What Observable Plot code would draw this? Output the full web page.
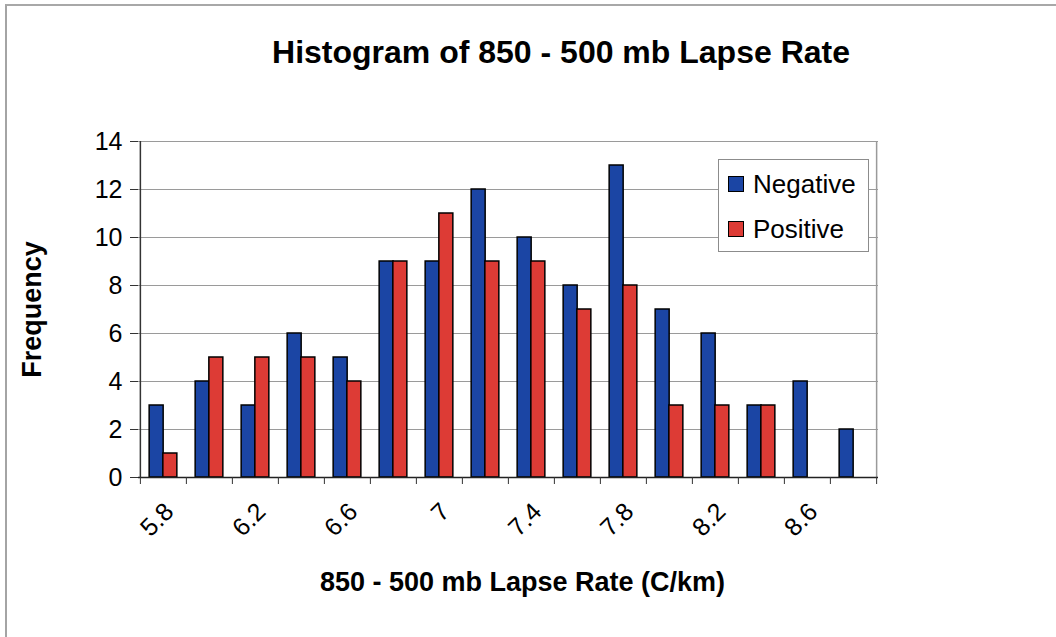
<!DOCTYPE html>
<html>
<head>
<meta charset="utf-8">
<script src="https://cdn.jsdelivr.net/npm/d3@7"></script>
<script src="https://cdn.jsdelivr.net/npm/@observablehq/plot@0.6"></script>
<style>
  body { margin: 0; background: #fff; font-family: "Liberation Sans", Arial, Helvetica, sans-serif; }
  #chart { position: relative; width: 1056px; height: 637px; overflow: hidden; background: #fff; }
  #border { position: absolute; left: 5px; top: 4px; right: -10px; bottom: -10px;
            border-left: 2px solid #a4a4a4; border-top: 2px solid #a8a8a8; pointer-events: none; }
  #title { height: 90px; box-sizing: border-box; padding-top: 36px; padding-left: 66px;
           text-align: center; font-size: 32px; line-height: 32px; font-weight: bold; color: #000; }
  #legend { position: absolute; left: 718px; top: 159px; width: 151px; height: 93px; box-sizing: border-box;
            border: 1px solid #8c8c8c; background: #fff; font-size: 26px; color: #000; }
  #legend .item { position: absolute; left: 9px; height: 28px; line-height: 28px; white-space: nowrap; }
  #legend .sw { display: inline-block; width: 14px; height: 14px; border: 1.5px solid #000;
                vertical-align: middle; margin-right: 9px; position: relative; top: -2px; }
  svg { display: block; }
</style>
</head>
<body>
<div id="chart">
  <div id="title">Histogram of 850 - 500 mb Lapse Rate</div>
  <div id="plot"></div>
  <div id="legend"></div>
  <div id="border"></div>
</div>
<script>
// Lapse-rate bins (C/km) and the number of cases in each bin
const bins = ["5.8", "6", "6.2", "6.4", "6.6", "6.8", "7", "7.2", "7.4", "7.6", "7.8", "8", "8.2", "8.4", "8.6", "8.8"];
const negative = [3, 4, 3, 6, 5, 9, 9, 12, 10, 8, 13, 7, 6, 3, 4, 2];
const positive = [1, 5, 5, 5, 4, 9, 11, 9, 9, 7, 8, 3, 3, 3, 0, 0];
const seriesNames = ["Negative", "Positive"];
const seriesColors = ["#1b45a4", "#dd3b35"];
const yTicks = [0, 2, 4, 6, 8, 10, 12, 14];
const labelledBins = bins.filter((d, i) => i % 2 === 0);

// Long table: one row per bar
const rows = [];
bins.forEach((b, i) => {
  rows.push({bin: b, series: seriesNames[0], count: negative[i]});
  rows.push({bin: b, series: seriesNames[1], count: positive[i]});
});

const width = 1056, height = 547;
const marginLeft = 138, marginRight = 178, marginTop = 51, marginBottom = 160;
const step = (width - marginLeft - marginRight) / bins.length;
const barFrac = 0.296;                 // each bar's share of a bin step
const barW = step * barFrac;

const chart = Plot.plot({
  width, height, marginLeft, marginRight, marginTop, marginBottom,
  style: {fontFamily: "'Liberation Sans', Arial, Helvetica, sans-serif", color: "#000", background: "#fff"},
  x: {domain: bins, paddingInner: 1 - barFrac, paddingOuter: (1 - barFrac) / 2, axis: null},
  y: {domain: [0, 14], axis: null},
  color: {domain: seriesNames, range: seriesColors},
  marks: [
    Plot.gridY(yTicks.filter(d => d > 0), {stroke: "#9a9a9a", strokeOpacity: 1, strokeWidth: 1}),
    // right edge of plot area
    Plot.ruleX([bins[bins.length - 1]], {dx: step / 2, stroke: "#9a9a9a", strokeWidth: 1.5}),
    // grouped bars: Negative left of centre, Positive right of centre
    Plot.barY(rows.filter(d => d.series === "Negative" && d.count > 0),
      {x: "bin", y: "count", fill: "series", stroke: "#000", strokeWidth: 1.5, dx: -barW / 2}),
    Plot.barY(rows.filter(d => d.series === "Positive" && d.count > 0),
      {x: "bin", y: "count", fill: "series", stroke: "#000", strokeWidth: 1.5, dx: barW / 2}),
    // axis lines
    Plot.ruleX([bins[0]], {dx: -step / 2, stroke: "#333", strokeWidth: 1.5}),
    Plot.ruleY([0], {stroke: "#222", strokeWidth: 1.5}),
    // y axis
    Plot.axisY(yTicks, {tickSize: 8, tickPadding: 8, fontSize: 25, stroke: "#333", label: null}),
    // x ticks at bin boundaries
    Plot.axisX(bins, {tickSize: 7, tickFormat: () => "", dx: -step / 2, stroke: "#333", label: null}),
    Plot.axisX([bins[bins.length - 1]], {tickSize: 7, tickFormat: () => "", dx: step / 2, stroke: "#333", label: null}),
    // x tick labels, every other bin, rotated
    Plot.axisX(labelledBins, {tickSize: 0, tickRotate: -45, tickPadding: 30, fontSize: 25, dx: 6, label: null}),
    // axis titles
    Plot.text(["Frequency"], {frameAnchor: "left", textAnchor: "middle", rotate: -90, dx: -106, fontSize: 27, fontWeight: "bold"}),
    Plot.text(["850 - 500 mb Lapse Rate (C/km)"], {frameAnchor: "bottom", dx: 14, dy: 113, fontSize: 27, fontWeight: "bold"})
  ]
});
document.getElementById("plot").appendChild(chart);

// Legend box
const legend = document.getElementById("legend");
seriesNames.forEach((name, i) => {
  const item = document.createElement("div");
  item.className = "item";
  item.style.top = (i === 0 ? 10 : 55) + "px";
  const sw = document.createElement("span");
  sw.className = "sw";
  sw.style.background = seriesColors[i];
  item.appendChild(sw);
  item.appendChild(document.createTextNode(name));
  legend.appendChild(item);
});
</script>
</body>
</html>
